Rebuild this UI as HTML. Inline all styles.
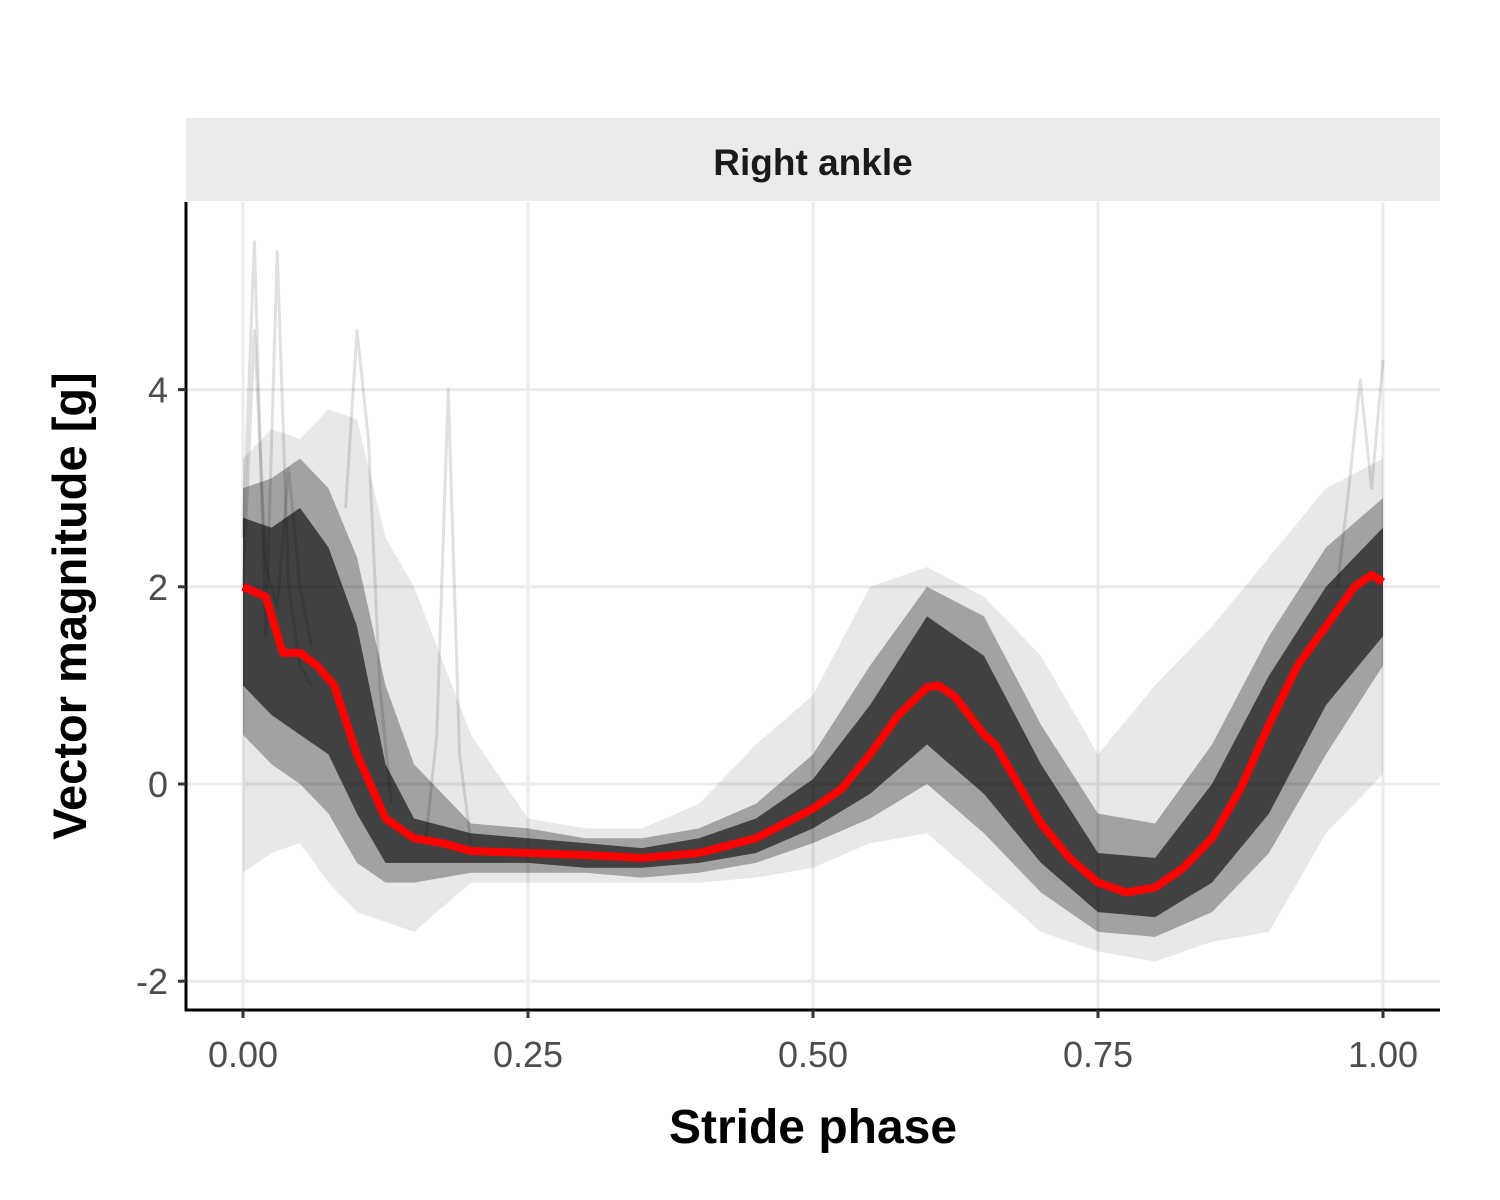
<!DOCTYPE html>
<html><head><meta charset="utf-8"><style>
html,body{margin:0;padding:0;background:#fff;}
svg{display:block;font-family:"Liberation Sans",Arial,sans-serif;}
</style></head><body>
<svg id="chart" width="1500" height="1200" viewBox="0 0 1500 1200">
<rect x="186" y="118" width="1254" height="83" fill="#ebebeb"/>
<text x="813" y="175" text-anchor="middle" font-size="37" font-weight="bold" fill="#1a1a1a">Right ankle</text>
<g id="grid"></g><g id="bands"></g><g id="traces"></g><g id="mean"></g><g id="axes"></g>
<text x="813" y="1143" text-anchor="middle" font-size="48" font-weight="bold" fill="#000">Stride phase</text>
<text transform="translate(86,606) rotate(-90)" text-anchor="middle" font-size="47" font-weight="bold" fill="#000">Vector magnitude [g]</text>
</svg>
<script>
const xTicks=[0,0.25,0.5,0.75,1.0];
const xTickLabels=["0.00","0.25","0.50","0.75","1.00"];
const yTicks=[-2,0,2,4];
const yTickLabels=["-2","0","2","4"];
const meanPhase=[0,0.02,0.035,0.05,0.065,0.08,0.1,0.125,0.15,0.175,0.2,0.25,0.3,0.35,0.4,0.45,0.5,0.525,0.55,0.575,0.6,0.61,0.625,0.65,0.66,0.675,0.7,0.725,0.75,0.775,0.8,0.825,0.85,0.875,0.9,0.925,0.95,0.975,0.99,1.0];
const meanValue=[2.0,1.9,1.33,1.33,1.2,1.0,0.3,-0.35,-0.55,-0.6,-0.68,-0.7,-0.72,-0.75,-0.7,-0.55,-0.25,-0.05,0.3,0.7,0.98,1.0,0.88,0.5,0.4,0.1,-0.4,-0.75,-1.0,-1.1,-1.05,-0.85,-0.55,-0.05,0.6,1.2,1.6,2.0,2.12,2.05];
const bandPhase=[0,0.025,0.05,0.075,0.1,0.125,0.15,0.2,0.25,0.3,0.35,0.4,0.45,0.5,0.55,0.6,0.65,0.7,0.75,0.8,0.85,0.9,0.95,1.0];
const coreLow=[1.0,0.7,0.5,0.3,-0.3,-0.8,-0.8,-0.8,-0.8,-0.85,-0.85,-0.8,-0.7,-0.45,-0.1,0.4,-0.1,-0.8,-1.3,-1.35,-1.0,-0.3,0.8,1.5];
const coreHigh=[2.7,2.6,2.8,2.4,1.6,0.2,-0.35,-0.5,-0.55,-0.6,-0.65,-0.55,-0.35,0.05,0.8,1.7,1.3,0.2,-0.7,-0.75,0.0,1.1,2.0,2.6];
const innerLow=[0.5,0.2,0.0,-0.3,-0.8,-1.0,-1.0,-0.9,-0.9,-0.9,-0.95,-0.9,-0.8,-0.6,-0.35,0.0,-0.5,-1.1,-1.5,-1.55,-1.3,-0.7,0.3,1.2];
const innerHigh=[3.0,3.1,3.3,3.0,2.3,1.0,0.2,-0.4,-0.45,-0.55,-0.55,-0.45,-0.2,0.3,1.2,2.0,1.7,0.6,-0.3,-0.4,0.4,1.5,2.4,2.9];
const outerLow=[-0.9,-0.7,-0.6,-1.0,-1.3,-1.4,-1.5,-1.0,-1.0,-1.0,-1.0,-1.0,-0.95,-0.85,-0.6,-0.5,-1.0,-1.5,-1.7,-1.8,-1.6,-1.5,-0.5,0.1];
const outerHigh=[3.3,3.6,3.5,3.8,3.7,2.5,2.0,0.5,-0.35,-0.45,-0.45,-0.2,0.4,0.9,2.0,2.2,1.9,1.3,0.3,1.0,1.6,2.3,3.0,3.3];
const spikePhase=[0,0.01,0.02,0.03,0.04,0.05,0.06];
const spikeA=[2.5,5.5,1.5,5.4,2.0,1.2,1.0];
const spikeB=[2.0,4.6,2.2,1.8,3.2,2.0,1.4];
const spike2Phase=[0.09,0.1,0.11,0.12,0.13];
const spike2A=[2.8,4.6,3.5,1.0,-0.2];
const spike3Phase=[0.16,0.17,0.18,0.19,0.2];
const spike3A=[-0.6,0.5,4.0,0.3,-0.6];
const spike4Phase=[0.96,0.97,0.98,0.99,1.0];
const spike4A=[2.0,3.0,4.1,3.0,4.3];
const NS="http://www.w3.org/2000/svg";
const X=v=>243+1140*v, Y=v=>784-98.6*v;
function mk(p,tag,a){const e=document.createElementNS(NS,tag);for(const k in a)e.setAttribute(k,a[k]);p.appendChild(e);return e;}
const grid=document.getElementById('grid');
xTicks.forEach(t=>{const l=mk(grid,'line',{x1:X(t),x2:X(t),y1:202,y2:1010,stroke:'#ebebeb','stroke-width':3});

});
yTicks.forEach(t=>{const l=mk(grid,'line',{x1:186,x2:1440,y1:Y(t),y2:Y(t),stroke:'#ebebeb','stroke-width':3});

});
const bands=document.getElementById('bands');
function band(lo,hi,op,name){let pts=bandPhase.map((p,i)=>X(p)+','+Y(hi[i]));for(let i=bandPhase.length-1;i>=0;i--)pts.push(X(bandPhase[i])+','+Y(lo[i]));
const e=mk(bands,'polygon',{points:pts.join(' '),fill:'#000','fill-opacity':op,'stroke-linejoin':'round'});

}
band(outerLow,outerHigh,0.09,'outer-band');
band(innerLow,innerHigh,0.3,'inner-band');
band(coreLow,coreHigh,0.6,'core-band');
const tr=document.getElementById('traces');
function line(g,ph,vals,stroke,w,op,name){const e=mk(g,'polyline',{points:ph.map((p,i)=>X(p)+','+Y(vals[i])).join(' '),fill:'none',stroke:stroke,'stroke-width':w,'stroke-opacity':op,'stroke-linejoin':'round'});

}
line(tr,spikePhase,spikeA,'#000',3,0.12,'stride-trace');
line(tr,spikePhase,spikeB,'#000',3,0.12,'stride-trace');
line(tr,spike2Phase,spike2A,'#000',3,0.12,'stride-trace');
line(tr,spike3Phase,spike3A,'#000',3,0.12,'stride-trace');
line(tr,spike4Phase,spike4A,'#000',3,0.12,'stride-trace');
line(document.getElementById('mean'),meanPhase,meanValue,'#ff0000',8,1,'mean-curve');
const ax=document.getElementById('axes');
let e=mk(ax,'line',{x1:186,x2:186,y1:202,y2:1011,stroke:'#000','stroke-width':3});


e=mk(ax,'line',{x1:185,x2:1440,y1:1010,y2:1010,stroke:'#000','stroke-width':3});


xTicks.forEach((t,i)=>{mk(ax,'line',{x1:X(t),x2:X(t),y1:1010,y2:1018,stroke:'#333','stroke-width':3});
const tx=mk(ax,'text',{x:X(t),y:1067,'text-anchor':'middle','font-size':36,fill:'#4d4d4d'});tx.textContent=xTickLabels[i];

});
yTicks.forEach((t,i)=>{mk(ax,'line',{x1:178,x2:186,y1:Y(t),y2:Y(t),stroke:'#333','stroke-width':3});
const tx=mk(ax,'text',{x:168,y:Y(t)+13,'text-anchor':'end','font-size':36,fill:'#4d4d4d'});tx.textContent=yTickLabels[i];

});
</script>
</body></html>
